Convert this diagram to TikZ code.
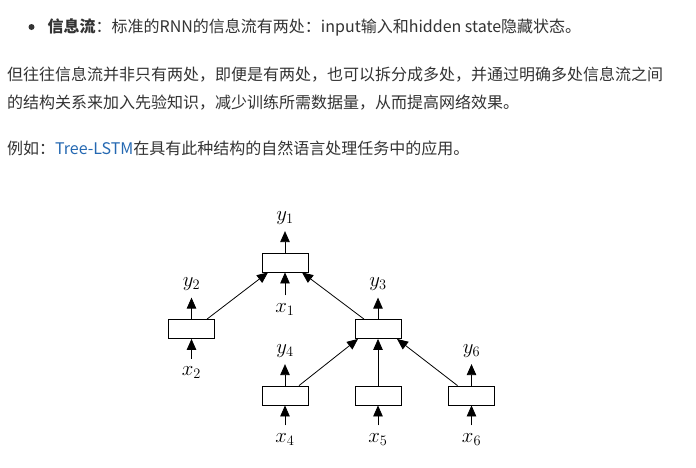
\documentclass[tikz,border=0pt]{standalone}
\usepackage[no-math]{fontspec}
\setmainfont{Noto Sans CJK SC}
\usepackage{xcolor}
\usetikzlibrary{positioning,arrows.meta}
\definecolor{txtgray}{HTML}{333333}
\definecolor{linkblue}{RGB}{36,104,178}
\tikzset{
  cell/.style={draw, line width=0.8pt, minimum width=46pt, minimum height=19pt, inner sep=0pt},
  flow/.style={-{Triangle[length=11pt,width=9.5pt]}, line width=0.8pt},
  ylab/.style={inner sep=0pt, outer sep=7pt, font=\fontsize{20}{24}\selectfont},
  xlab/.style={inner sep=0pt, outer sep=8pt, font=\fontsize{20}{24}\selectfont},
  para/.style={anchor=base west, inner sep=0pt, text=txtgray, font=\fontsize{16}{20}\selectfont}
}

\begin{document}
\begin{tikzpicture}[x=1pt,y=-1pt]
	\fill[white] (0,0) rectangle (696,467);
	\useasboundingbox (0,0) rectangle (696,467);
	% text above the tree
	\fill[txtgray] (31.5,27) circle (3pt);
	\node[para] (line1) at (47.5,32) {\textbf{信息流}：标准的RNN的信息流有两处：input输入和hidden state隐藏状态。};
	\node[para] (line2) at (7,80.5) {但往往信息流并非只有两处，即便是有两处，也可以拆分成多处，并通过明确多处信息流之间};
	\node[para] (line3) at (7,108.5) {的结构关系来加入先验知识，减少训练所需数据量，从而提高网络效果。};
	\node[para] (line4) at (7,154.5) {例如：\textcolor{linkblue}{Tree-LSTM}在具有此种结构的自然语言处理任务中的应用。};
	% tree cells
	\node[cell] (b1) at (285,262.5) {};
	\node[cell] (b2) at (191.5,329) {};
	\node[cell] (b3) at (378,329) {};
	\node[cell] (b4) at (285,395.5) {};
	\node[cell] (b5) at (378,395.5) {};
	\node[cell] (b6) at (471.5,395.5) {};
	% outputs and inputs
	\node[ylab, above=21.5pt of b1] (y1) {$y_1$};
	\node[xlab, below=23pt of b1] (x1) {$x_1$};
	\node[ylab, above=21.5pt of b2] (y2) {$y_2$};
	\node[xlab, below=20pt of b2] (x2) {$x_2$};
	\node[ylab, above=21.5pt of b3] (y3) {$y_3$};
	\node[ylab, above=21.5pt of b4] (y4) {$y_4$};
	\node[xlab, below=20pt of b4] (x4) {$x_4$};
	\node[xlab, below=20pt of b5] (x5) {$x_5$};
	\node[ylab, above=21.5pt of b6] (y6) {$y_6$};
	\node[xlab, below=20pt of b6] (x6) {$x_6$};
	\foreach \n in {1,2,3,4,6}
		\draw[flow] (b\n.north) -- (y\n);
	\foreach \n in {1,2,4,5,6}
		\draw[flow] (x\n) -- (b\n.south);
	% links between cells
	\draw[flow] ([xshift=15.5pt]b2.north) -- ([xshift=-17pt]b1.south);
	\draw[flow] ([xshift=-14pt]b3.north) -- ([xshift=17pt]b1.south);
	\draw[flow] ([xshift=14pt]b4.north) -- ([xshift=-20pt]b3.south);
	\draw[flow] (b5.north) -- (b3.south);
	\draw[flow] ([xshift=-14pt]b6.north) -- ([xshift=19pt]b3.south);
\end{tikzpicture}
\end{document}
